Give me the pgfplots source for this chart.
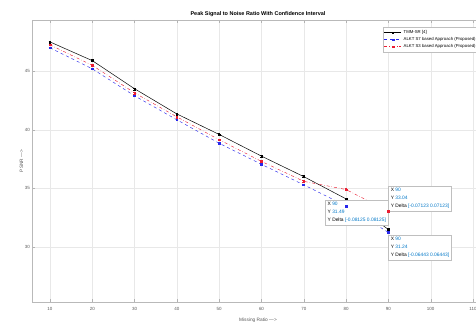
\documentclass[border=0pt]{standalone}
\usepackage{pgfplots}
\pgfplotsset{compat=1.18}
\usepackage{fontspec}
\setmainfont{Liberation Sans}
\definecolor{tipblue}{RGB}{0,120,200}
\definecolor{mblue}{RGB}{40,40,235}
\definecolor{mred}{RGB}{235,30,50}
\tikzset{tipbox/.style={draw=gray!50, fill=white, align=left, inner sep=2.2bp,
   font=\fontsize{4.9}{8}\selectfont}}
\begin{document}
\begin{tikzpicture}
\path[use as bounding box] (0,0) rectangle (476bp,322bp);
\clip (0,0) rectangle (476bp,322bp);
\begin{axis}[
 at={(32bp,20bp)}, anchor=south west, scale only axis,
 width=452bp, height=282bp,
 xmin=5.75, xmax=112.6, ymin=25.3, ymax=49.37,
 xtick={10,20,...,110}, ytick={30,35,40,45},
 grid=major, major grid style={gray!18, line width=0.4pt},
 axis line style={gray!55, line width=0.5pt},
 tick style={gray!60}, tick align=inside, major tick length=3bp,
 ticklabel style={font=\fontsize{4.5}{5}\selectfont, text=gray!70!black},
 xticklabel style={yshift=-1.5bp}, yticklabel style={xshift=1.5bp},
 /pgf/number format/assume math mode=true,
 title={Peak Signal to Noise Ratio With Confidence Interval},
 title style={font=\bfseries\fontsize{5.5}{6}\selectfont, yshift=-6bp},
 xlabel={Missing Ratio --->}, ylabel={PSNR --->},
 label style={font=\fontsize{4.8}{5.5}\selectfont, text=gray!70!black},
 xlabel style={yshift=-0.5bp}, ylabel style={yshift=-5bp},
 legend style={at={(0.7765,0.975)}, anchor=north west,
   font=\fontsize{4.3}{5}\selectfont, draw=gray!50, inner sep=1pt,
   row sep=-1.5pt, legend cell align=left},
]
\addplot[black, line width=0.5pt, mark=square*, mark size=0.7bp,
  error bars/.cd, y dir=both, y fixed=0.08125,
  error mark options={rotate=90, mark size=1.3bp, black},
  error bar style={black}]
 coordinates {(10,47.5) (20,45.9) (30,43.5) (40,41.35) (50,39.6) (60,37.75) (70,36.0) (80,34.1) (90,31.49)};
\addlegendentry{TMM-SR [4]}
\addplot[mblue, line width=0.45pt, dashed, mark=square*, mark size=0.8bp,
  mark options={solid},
  error bars/.cd, y dir=both, y fixed=0.06443,
  error mark options={rotate=90, mark size=1.3bp, mblue},
  error bar style={mblue, solid}]
 coordinates {(10,47.0) (20,45.2) (30,42.9) (40,40.85) (50,38.85) (60,37.05) (70,35.3) (80,33.5) (90,31.24)};
\addlegendentry{ALKT S7 based Approach (Proposed)}
\addplot[mred, line width=0.45pt, dash dot, mark=square*, mark size=0.8bp,
  mark options={solid},
  error bars/.cd, y dir=both, y fixed=0.07123,
  error mark options={rotate=90, mark size=1.3bp, mred},
  error bar style={mred, solid}]
 coordinates {(10,47.25) (20,45.5) (30,43.15) (40,41.1) (50,39.15) (60,37.3) (70,35.6) (80,34.9) (90,33.04)};
\addlegendentry{ALKT S3 based Approach (Proposed)}
\node[tipbox, anchor=south west] at (axis cs:90,33.04)
 {X {\color{tipblue}90}\\Y {\color{tipblue}33.04}\\Y Delta {\color{tipblue}[-0.07123 0.07123]}};
\node[tipbox, anchor=north east] at (axis cs:90,34.0)
 {X {\color{tipblue}90}\\Y {\color{tipblue}31.49}\\Y Delta {\color{tipblue}[-0.08125 0.08125]}};
\node[tipbox, anchor=north west] at (axis cs:90,31.02)
 {X {\color{tipblue}90}\\Y {\color{tipblue}31.24}\\Y Delta {\color{tipblue}[-0.06443 0.06443]}};
\end{axis}
\end{tikzpicture}
\end{document}
